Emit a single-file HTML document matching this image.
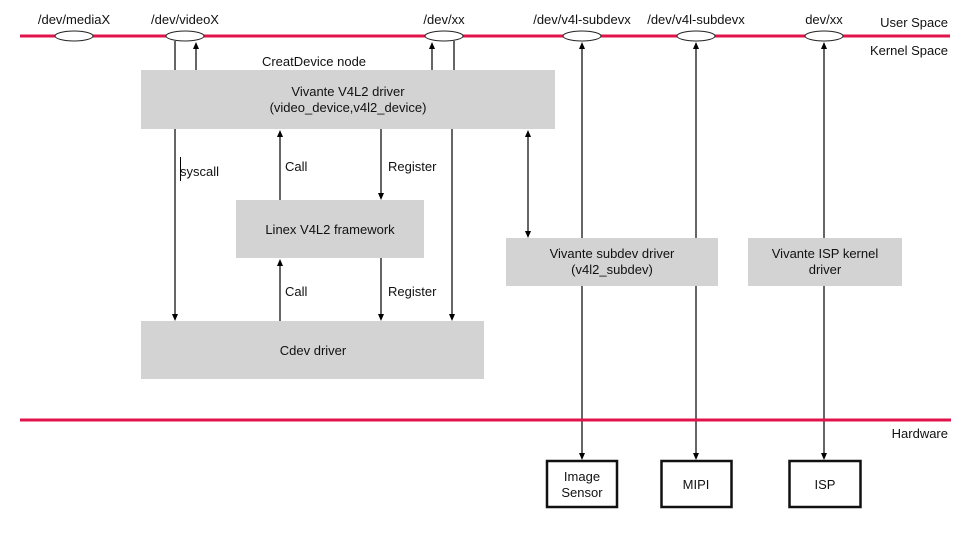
<!DOCTYPE html>
<html><head><meta charset="utf-8"><style>
html,body{margin:0;padding:0;background:#fff;}
text{font-family:"Liberation Sans",Arial,sans-serif;font-size:13px;fill:#111;}
</style></head><body>
<svg width="974" height="540" viewBox="0 0 974 540" xmlns="http://www.w3.org/2000/svg">
<!-- connectors (drawn under boxes) -->
<g stroke="#000" stroke-width="1.2" fill="none">
<line x1="175" y1="41" x2="175" y2="318"/>
<line x1="196" y1="70" x2="196" y2="44"/>
<line x1="432" y1="70" x2="432" y2="44"/>
<line x1="454" y1="41" x2="454" y2="70"/>
<line x1="452" y1="129" x2="452" y2="318"/>
<line x1="280" y1="200" x2="280" y2="134"/>
<line x1="381" y1="129" x2="381" y2="196"/>
<line x1="280" y1="321" x2="280" y2="263"/>
<line x1="381" y1="258" x2="381" y2="317"/>
<line x1="528" y1="134" x2="528" y2="233"/>
<line x1="582" y1="44" x2="582" y2="456"/>
<line x1="696" y1="44" x2="696" y2="456"/>
<line x1="824" y1="44" x2="824" y2="456"/>
<line x1="180.5" y1="157" x2="180.5" y2="181" stroke-width="1"/>
</g>
<!-- lines -->
<line x1="20" y1="36" x2="950" y2="36" stroke="#e0144a" stroke-width="3"/>
<line x1="20" y1="420" x2="951" y2="420" stroke="#e0144a" stroke-width="3"/>
<!-- boxes -->
<rect x="141" y="70" width="414" height="59" fill="#d3d3d3"/>
<rect x="236" y="200" width="188" height="58" fill="#d3d3d3"/>
<rect x="141" y="321" width="343" height="58" fill="#d3d3d3"/>
<rect x="506" y="238" width="212" height="48" fill="#d3d3d3"/>
<rect x="748" y="238" width="154" height="48" fill="#d3d3d3"/>
<rect x="547" y="461" width="70" height="46" fill="#fff" stroke="#111" stroke-width="2.5"/>
<rect x="661.5" y="461" width="70" height="46" fill="#fff" stroke="#111" stroke-width="2.5"/>
<rect x="789.5" y="461" width="71" height="46" fill="#fff" stroke="#111" stroke-width="2.5"/>
<!-- ellipses -->
<g fill="#fff" stroke="#222" stroke-width="1">
<ellipse cx="74" cy="36" rx="19" ry="5"/>
<ellipse cx="185" cy="36" rx="19" ry="5"/>
<ellipse cx="444" cy="36" rx="19" ry="5"/>
<ellipse cx="582" cy="36" rx="19" ry="5"/>
<ellipse cx="696" cy="36" rx="19" ry="5"/>
<ellipse cx="824" cy="36" rx="19" ry="5"/>
</g>
<!-- arrowheads -->
<g fill="#000">
<!-- up -->
<polygon points="196,42 193,49 199,49"/>
<polygon points="432,42 429,49 435,49"/>
<polygon points="280,130 277,137 283,137"/>
<polygon points="280,259 277,266 283,266"/>
<polygon points="528,130 525,137 531,137"/>
<polygon points="582,42 579,49 585,49"/>
<polygon points="696,42 693,49 699,49"/>
<polygon points="824,42 821,49 827,49"/>
<!-- down -->
<polygon points="175,321 172,314 178,314"/>
<polygon points="452,321 449,314 455,314"/>
<polygon points="381,200 378,193 384,193"/>
<polygon points="381,321 378,314 384,314"/>
<polygon points="528,238 525,231 531,231"/>
<polygon points="582,460 579,453 585,453"/>
<polygon points="696,460 693,453 699,453"/>
<polygon points="824,460 821,453 827,453"/>
</g>
<!-- text -->
<text x="74" y="24" text-anchor="middle">/dev/mediaX</text>
<text x="185" y="24" text-anchor="middle">/dev/videoX</text>
<text x="444" y="24" text-anchor="middle">/dev/xx</text>
<text x="582" y="24" text-anchor="middle">/dev/v4l-subdevx</text>
<text x="696" y="24" text-anchor="middle">/dev/v4l-subdevx</text>
<text x="824" y="24" text-anchor="middle">dev/xx</text>
<text x="948" y="27" text-anchor="end">User Space</text>
<text x="948" y="55" text-anchor="end">Kernel Space</text>
<text x="948" y="438" text-anchor="end">Hardware</text>
<text x="314" y="66" text-anchor="middle">CreatDevice node</text>
<text x="348" y="96" text-anchor="middle">Vivante V4L2 driver</text>
<text x="348" y="112" text-anchor="middle">(video_device,v4l2_device)</text>
<text x="180" y="176">syscall</text>
<text x="285" y="171">Call</text>
<text x="388" y="171">Register</text>
<text x="330" y="234" text-anchor="middle">Linex V4L2 framework</text>
<text x="285" y="296">Call</text>
<text x="388" y="296">Register</text>
<text x="313" y="355" text-anchor="middle">Cdev driver</text>
<text x="612" y="258" text-anchor="middle">Vivante subdev driver</text>
<text x="612" y="274" text-anchor="middle">(v4l2_subdev)</text>
<text x="825" y="258" text-anchor="middle">Vivante ISP kernel</text>
<text x="825" y="274" text-anchor="middle">driver</text>
<text x="582" y="481" text-anchor="middle">Image</text>
<text x="582" y="497" text-anchor="middle">Sensor</text>
<text x="696" y="489" text-anchor="middle">MIPI</text>
<text x="825" y="489" text-anchor="middle">ISP</text>
</svg>
</body></html>
